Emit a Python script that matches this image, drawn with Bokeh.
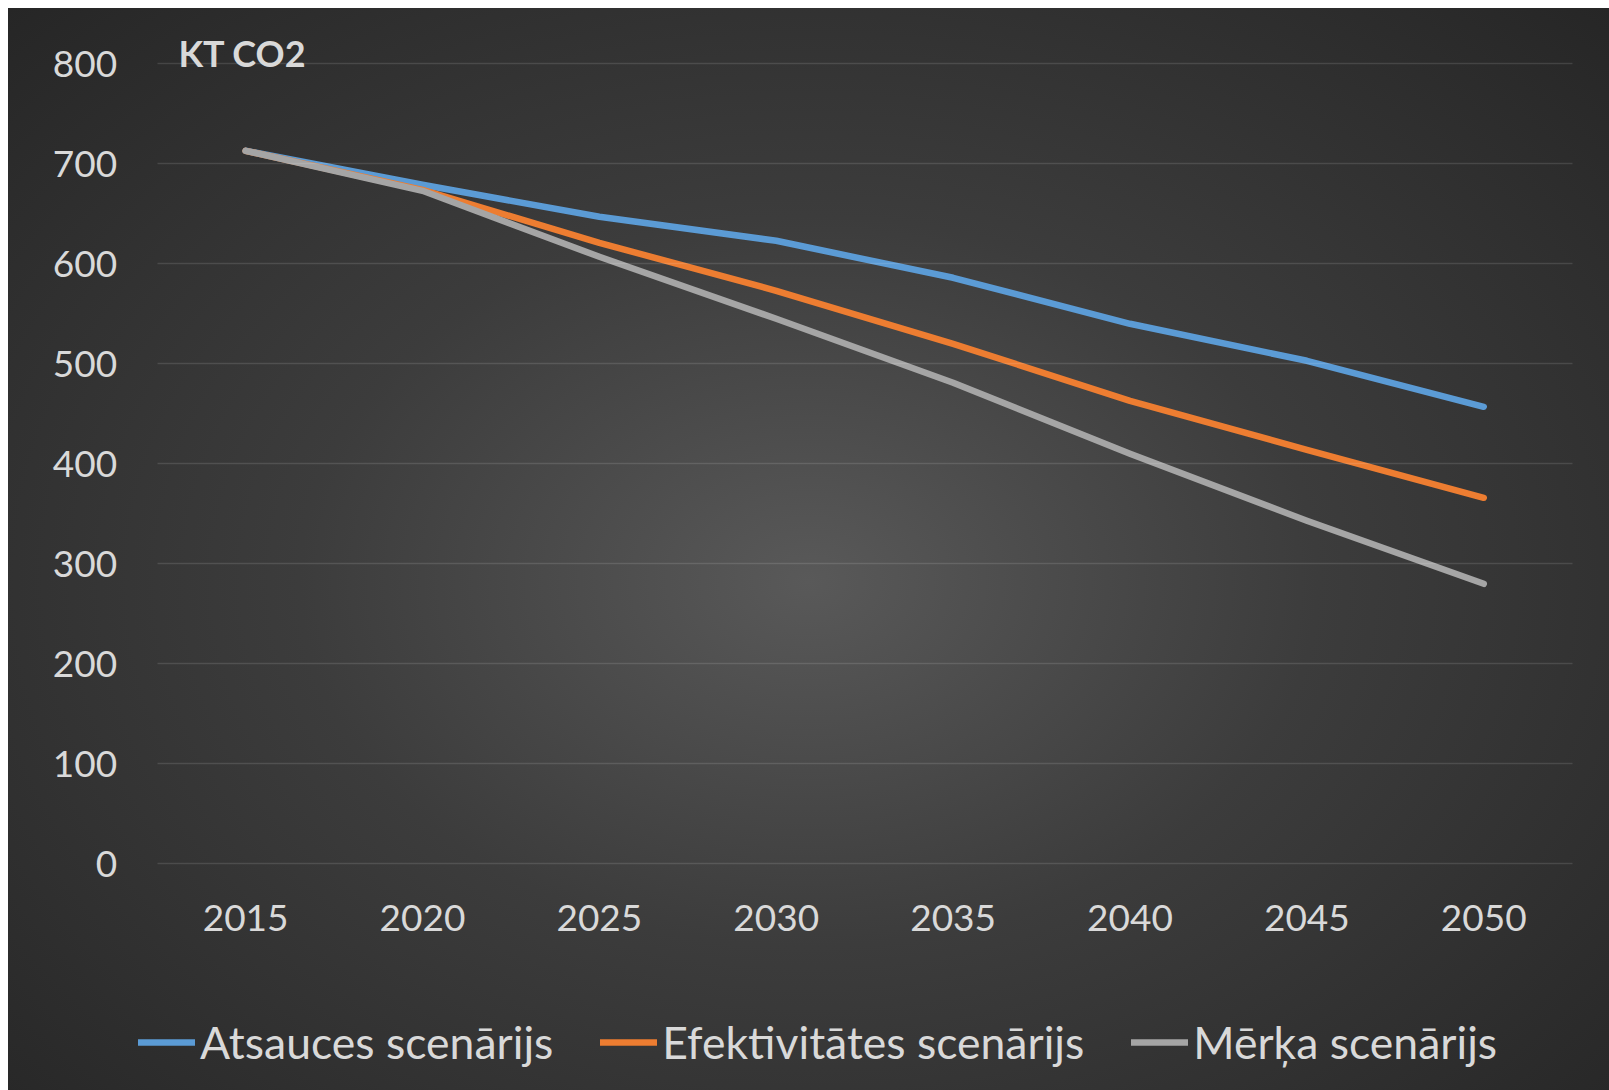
from bokeh.plotting import figure
from bokeh.models import Range1d, Legend, LegendItem, Label, FixedTicker
from bokeh.embed import file_html
from bokeh.resources import INLINE

years = [2015, 2020, 2025, 2030, 2035, 2040, 2045, 2050]
atsauces = [713, 679, 647, 623, 586, 540, 503, 457]
efektivitates = [713, 674, 621, 573, 520, 463, 414, 366]
merka = [713, 673, 607, 545, 481, 410, 343, 280]
y_ticks = [0, 100, 200, 300, 400, 500, 600, 700, 800]
series_names = ["Atsauces scenārijs", "Efektivitātes scenārijs", "Mērķa scenārijs"]
series_colors = ["#5B9BD5", "#ED7D31", "#A5A5A5"]
y_title = "KT CO2"

FONT = "Lato"
TXT = "#D9D9D9"

# frame spans the whole canvas; axes are pinned inside it
p = figure(width=1609, height=1090,
           x_range=Range1d(2008.071, 2053.555), y_range=Range1d(-226.7, 863.3),
           output_backend="svg", toolbar_location=None,
           min_border_left=0, min_border_right=0, min_border_top=0, min_border_bottom=0)

p.styles = {"background": "radial-gradient(ellipse farthest-corner at 50% 53%, #595959 0%, #3c3c3c 45%, #262626 100%) 8px 8px / calc(100% - 8px) calc(100% - 8px) no-repeat, #ffffff"}
p.border_fill_alpha = 0
p.background_fill_alpha = 0
p.outline_line_alpha = 0

renderers = []
for vals, c in zip([atsauces, efektivitates, merka], series_colors):
    r = p.line(years, vals, line_color=c, line_width=6.5, line_cap="round", line_join="round")
    renderers.append(r)

p.xaxis.ticker = FixedTicker(ticks=years)
p.yaxis.ticker = FixedTicker(ticks=y_ticks)
p.xaxis.fixed_location = 0
p.yaxis.fixed_location = 2012.5
for ax in (p.xaxis, p.yaxis):
    ax.axis_line_alpha = 0
    ax.minor_tick_line_alpha = 0
    ax.major_tick_out = 0
    ax.minor_tick_out = 0
    ax.minor_tick_in = 0
    ax.major_label_text_font = FONT
    ax.major_label_text_font_size = "37px"
    ax.major_label_text_color = TXT
p.xaxis.major_tick_in = 0
p.xaxis.major_tick_line_alpha = 0
# horizontal gridlines drawn as the y axis' inward ticks, spanning the plot area only
p.yaxis.major_tick_in = 1415
p.yaxis.major_tick_line_color = "#FFFFFF"
p.yaxis.major_tick_line_alpha = 0.12
p.yaxis.major_tick_line_width = 1.5
p.yaxis.major_label_standoff = 40
p.xaxis.major_label_standoff = 41

p.xgrid.visible = False
p.ygrid.visible = False

p.add_layout(Label(x=2013.10, y=810.5, text=y_title, text_font=FONT, text_font_style="bold",
                   text_font_size="36px", text_color=TXT, text_baseline="alphabetic"))

legend = Legend(items=[LegendItem(label=n, renderers=[r]) for n, r in zip(series_names, renderers)],
                orientation="horizontal", location=(138, 22), margin=0,
                glyph_width=57, glyph_height=20, label_standoff=5, spacing=47, padding=0,
                label_text_font=FONT, label_text_font_size="44.5px", label_text_color=TXT,
                border_line_alpha=0, background_fill_alpha=0)
p.add_layout(legend, "center")

open("out.html", "w").write(file_html(p, INLINE))
